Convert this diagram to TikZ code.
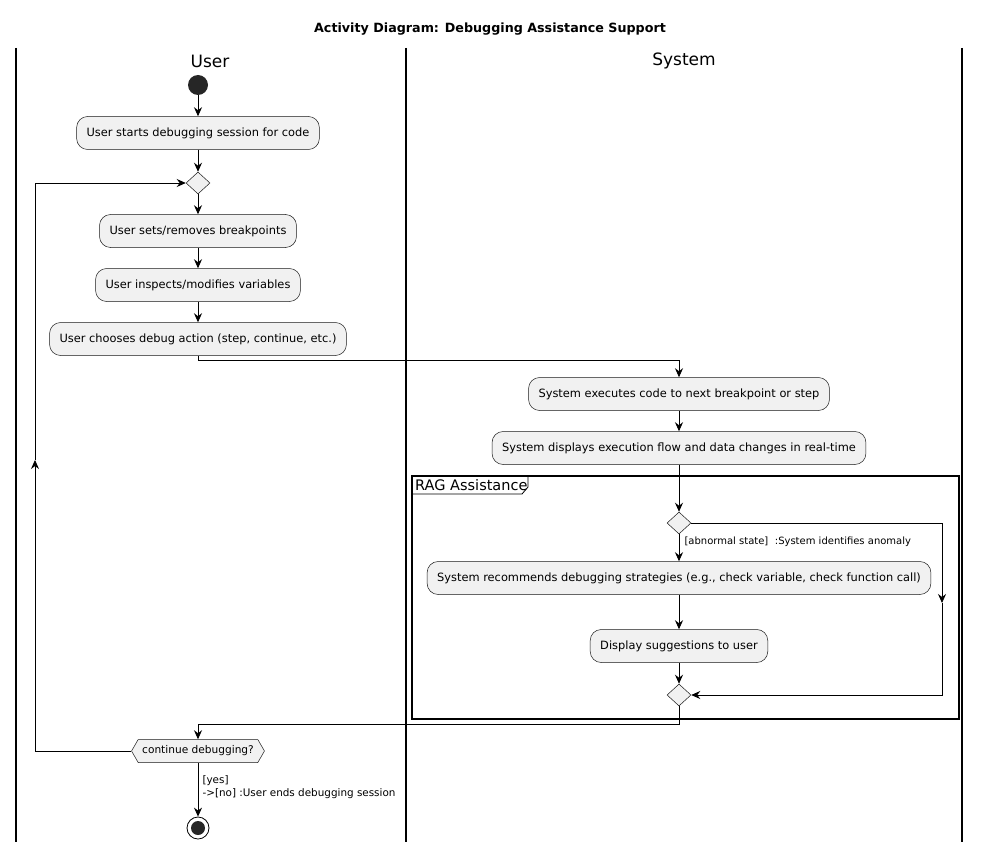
\documentclass[tikz,border=0pt]{standalone}
\usepackage{fontspec}
\setmainfont{DejaVu Sans}
\usetikzlibrary{arrows.meta,shapes.geometric,shapes.symbols}
\definecolor{actfill}{HTML}{F1F1F1}
\definecolor{actline}{HTML}{181818}
\tikzset{
  act/.style={draw=actline, fill=actfill, rounded corners=11pt, line width=0.5pt,
    minimum height=33pt, inner xsep=10pt, font=\fontsize{11.4}{13}\selectfont},
  branch/.style={diamond, draw=actline, fill=actfill, line width=0.5pt,
    minimum width=24pt, minimum height=22pt, inner sep=0pt},
  flow/.style={line width=0.8pt, -{Stealth[length=9pt,width=8pt,inset=3pt]}},
  lane/.style={line width=1.3pt},
  guard/.style={font=\fontsize{10}{13.5}\selectfont, align=left}
}
\begin{document}
\begin{tikzpicture}[x=1pt,y=-1pt]
  \useasboundingbox (0,0) rectangle (981,850);
  % title and lanes
  \node[font=\bfseries\fontsize{12.7}{15}\selectfont] (title) at (490,29) {Activity Diagram: Debugging Assistance Support};
  \draw[lane] (16,48) -- (16,842);
  \draw[lane] (406,48) -- (406,842);
  \draw[lane] (962,48) -- (962,842);
  \node[font=\fontsize{17}{20}\selectfont] (userlane) at (210,61) {User};
  \node[font=\fontsize{17}{20}\selectfont] (systemlane) at (684,61) {System};
  % RAG frame
  \draw[line width=1.3pt] (412,476) rectangle (959,719);
  \draw[line width=0.8pt] (412,494) -- (522,494) -- (528,487) -- (528,476);
  \node[anchor=west, font=\fontsize{14.5}{16}\selectfont, inner sep=0pt] (ragtitle) at (415,485) {RAG Assistance};
  % user activities
  \node[circle, fill=black!85, minimum size=20pt, inner sep=0pt] (start) at (198,85) {};
  \node[act] (startsession) at (198,133) {User starts debugging session for code};
  \node[branch] (loopmerge) at (198,183) {};
  \node[act] (setbp) at (198,231) {User sets/removes breakpoints};
  \node[act] (inspect) at (198,285) {User inspects/modifies variables};
  \node[act] (choose) at (198,339) {User chooses debug action (step, continue, etc.)};
  % system activities
  \node[act] (execute) at (679,394) {System executes code to next breakpoint or step};
  \node[act] (display) at (679,448) {System displays execution flow and data changes in real-time};
  \node[branch] (anomalydec) at (679,523) {};
  \node[act] (recommend) at (679,578) {System recommends debugging strategies (e.g., check variable, check function call)};
  \node[act] (suggest) at (679,646) {Display suggestions to user};
  \node[branch] (anomalymerge) at (679,695) {};
  % end of loop
  \node[signal, signal to=west and east, signal pointer angle=120, draw=actline, fill=actfill,
    line width=0.5pt, minimum height=23pt, inner xsep=4pt, inner ysep=0pt,
    font=\fontsize{10.6}{12}\selectfont] (contdec) at (198,751) {continue debugging?};
  \node[circle, draw=black, line width=0.8pt, minimum size=22pt, inner sep=0pt] (stop) at (198,828) {};
  \node[circle, fill=black!85, minimum size=14pt, inner sep=0pt] (stopdot) at (stop) {};
  \coordinate (rightmid) at (942,603);
  \coordinate (leftmid) at (35,460);
  % connectors
  \draw[flow] (start) -- (startsession);
  \draw[flow] (startsession) -- (loopmerge);
  \draw[flow] (loopmerge) -- (setbp);
  \draw[flow] (setbp) -- (inspect);
  \draw[flow] (inspect) -- (choose);
  \draw[flow] (choose.south) -- ++(0,5) -| (execute.north);
  \draw[flow] (execute) -- (display);
  \draw[flow] (display) -- (anomalydec);
  \draw[flow] (anomalydec) -- (recommend);
  \node[guard, anchor=west] (abnormal) at (681,542) {[abnormal state]\,\, :System identifies anomaly};
  \draw[flow] (recommend) -- (suggest);
  \draw[flow] (suggest) -- (anomalymerge);
  \draw[flow] (anomalydec.east) -| (rightmid);
  \draw[flow] (rightmid) |- (anomalymerge.east);
  \draw[flow] (anomalymerge.south) -- ++(0,18) -| (contdec.north);
  \draw[flow] (contdec.west) -| (leftmid);
  \draw[flow] (leftmid) |- (loopmerge.west);
  \draw[flow] (contdec.south) -- (stop);
  \node[guard, anchor=north west, font=\fontsize{10.4}{13.5}\selectfont] (yesno) at (199,772) {[yes]\\->[no] :User ends debugging session};
\end{tikzpicture}
\end{document}
